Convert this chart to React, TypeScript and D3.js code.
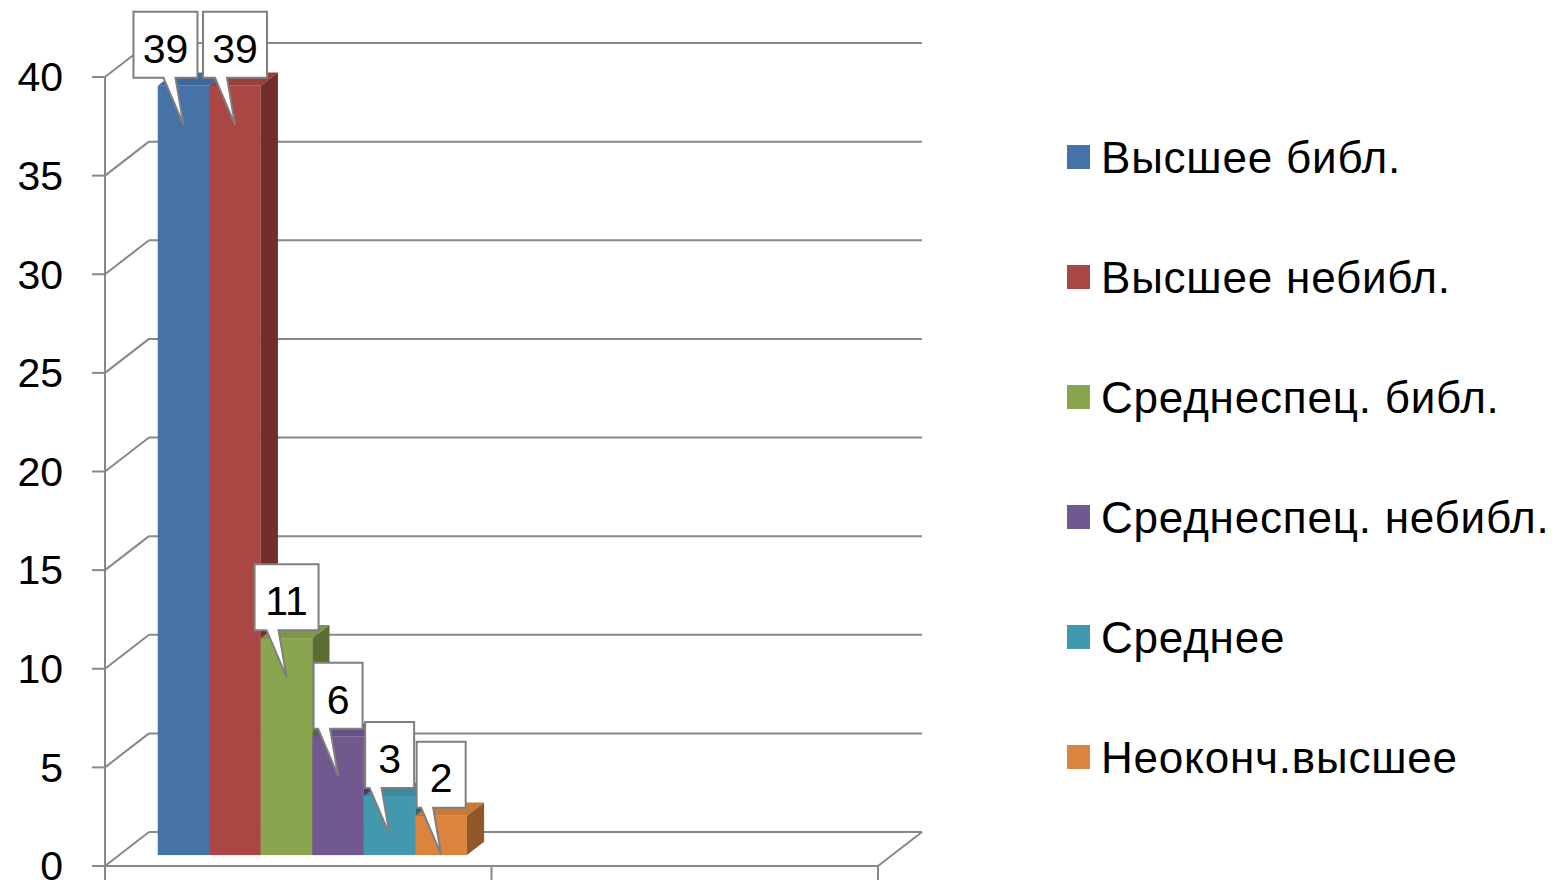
import React from "react";
import * as d3 from "d3";

const categories = ["Группа 1", "Группа 2"];
const seriesNames = [
  "Высшее библ.",
  "Высшее небибл.",
  "Среднеспец. библ.",
  "Среднеспец. небибл.",
  "Среднее",
  "Неоконч.высшее",
];
// values for the first category; the second one is empty
const seriesValues = [39, 39, 11, 6, 3, 2];
const yTicks = [0, 5, 10, 15, 20, 25, 30, 35, 40];

const frontColors = ["#4572A7", "#AA4643", "#89A54E", "#71588F", "#4198AF", "#DB843D"];
const topColors = ["#3E6899", "#9A3F3C", "#7D9747", "#675082", "#3B8AA0", "#C97A38"];
const sideColors = ["#2F4E74", "#702E2C", "#5A6D33", "#4A3B5E", "#2B6575", "#915728"];

// small nudges of the callout boxes so they do not overlap
const labelShift = [-18, 0, 0, 0, 0, 0];

const W = 1561;
const H = 888;
const DX = 44; // full depth offset
const DY = 34;
const D0 = 0.32; // bar front depth
const D1 = 0.71; // bar back depth
const axisColor = "#888888";
const font = "'Liberation Sans', Arial, sans-serif";

export default function App() {
  const x = d3.scaleBand().domain(categories).range([105, 878]);
  const xs = d3
    .scaleBand()
    .domain(seriesNames)
    .range([0, x.bandwidth()])
    .paddingInner(0)
    .paddingOuter(0.75);
  const y = d3.scaleLinear().domain([0, 40]).range([866, 77]);

  const left = x.range()[0];
  const right = x.range()[1];
  const y0 = y(0);

  const bars = seriesNames.map((name, i) => {
    const v = seriesValues[i];
    const bx = (x(categories[0]) as number) + (xs(name) as number) + D0 * DX;
    const bw = xs.bandwidth();
    const top = y(v) - D0 * DY;
    const bottom = y0 - D0 * DY;
    const ddx = (D1 - D0) * DX;
    const ddy = (D1 - D0) * DY;
    return { name, v, i, bx, bw, top, bottom, ddx, ddy };
  });

  return (
    <svg
      width={W}
      height={H}
      style={{ position: "absolute", left: 0, top: 0, background: "#fff" }}
      fontFamily={font}
    >
      {/* back wall gridlines and left wall diagonals */}
      {yTicks.map((t) => (
        <g key={"g" + t} stroke={axisColor} strokeWidth={2} fill="none">
          <line x1={left} y1={y(t)} x2={left + DX} y2={y(t) - DY} />
          <line x1={left + DX} y1={y(t) - DY} x2={right + DX} y2={y(t) - DY} />
        </g>
      ))}
      {/* floor */}
      <g stroke={axisColor} strokeWidth={2} fill="none">
        <line x1={92} y1={y0} x2={right} y2={y0} />
        <line x1={right} y1={y0} x2={right + DX} y2={y0 - DY} />
        {[left, left + x.step(), right].map((tx, k) => (
          <line key={k} x1={tx} y1={y0} x2={tx} y2={y0 + 14} />
        ))}
        <line x1={left} y1={y(40)} x2={left} y2={y0} />
        {yTicks.map((t) => (
          <line key={"t" + t} x1={92} y1={y(t)} x2={left} y2={y(t)} />
        ))}
      </g>
      {/* y tick labels */}
      {yTicks.map((t) => (
        <text
          key={"l" + t}
          x={63}
          y={y(t)}
          dy="0.35em"
          textAnchor="end"
          fontSize={41}
          fill="#000"
        >
          {t}
        </text>
      ))}
      {/* bars */}
      {bars.map((b) => (
        <g key={b.name}>
          <rect x={b.bx} y={b.top} width={b.bw} height={b.bottom - b.top} fill={frontColors[b.i]} />
          <path
            d={`M${b.bx},${b.top}L${b.bx + b.bw},${b.top}L${b.bx + b.bw + b.ddx},${b.top - b.ddy}L${b.bx + b.ddx},${b.top - b.ddy}Z`}
            fill={topColors[b.i]}
          />
          <path
            d={`M${b.bx + b.bw},${b.top}L${b.bx + b.bw + b.ddx},${b.top - b.ddy}L${b.bx + b.bw + b.ddx},${b.bottom - b.ddy}L${b.bx + b.bw},${b.bottom}Z`}
            fill={sideColors[b.i]}
          />
        </g>
      ))}
      {/* callout labels */}
      {bars.map((b) => {
        const tipX = b.bx + b.bw / 2;
        const tipY = b.top + 39;
        const label = String(b.v);
        const bwBox = label.length > 1 ? 64 : 49;
        const cx = tipX + labelShift[b.i];
        const bx0 = cx - bwBox / 2;
        const bx1 = cx + bwBox / 2;
        const by1 = tipY - 47;
        const by0 = by1 - 66;
        const d = `M${bx0},${by0}H${bx1}V${by1}H${tipX - 8}L${tipX},${tipY}L${tipX - 20},${by1}H${bx0}Z`;
        return (
          <g key={"c" + b.name}>
            <path d={d} fill="#fff" stroke="#7f7f7f" strokeWidth={2} strokeLinejoin="miter" />
            <text x={cx} y={(by0 + by1) / 2 + 3} dy="0.36em" textAnchor="middle" fontSize={41} fill="#000">
              {label}
            </text>
          </g>
        );
      })}
      {/* legend */}
      {seriesNames.map((name, i) => {
        const base = 173 + i * 120;
        return (
          <g key={"lg" + name}>
            <rect x={1067} y={base - 28} width={23} height={24} fill={frontColors[i]} />
            <text x={1101} y={base} fontSize={44} letterSpacing={0.8} fill="#000">
              {name}
            </text>
          </g>
        );
      })}
    </svg>
  );
}
